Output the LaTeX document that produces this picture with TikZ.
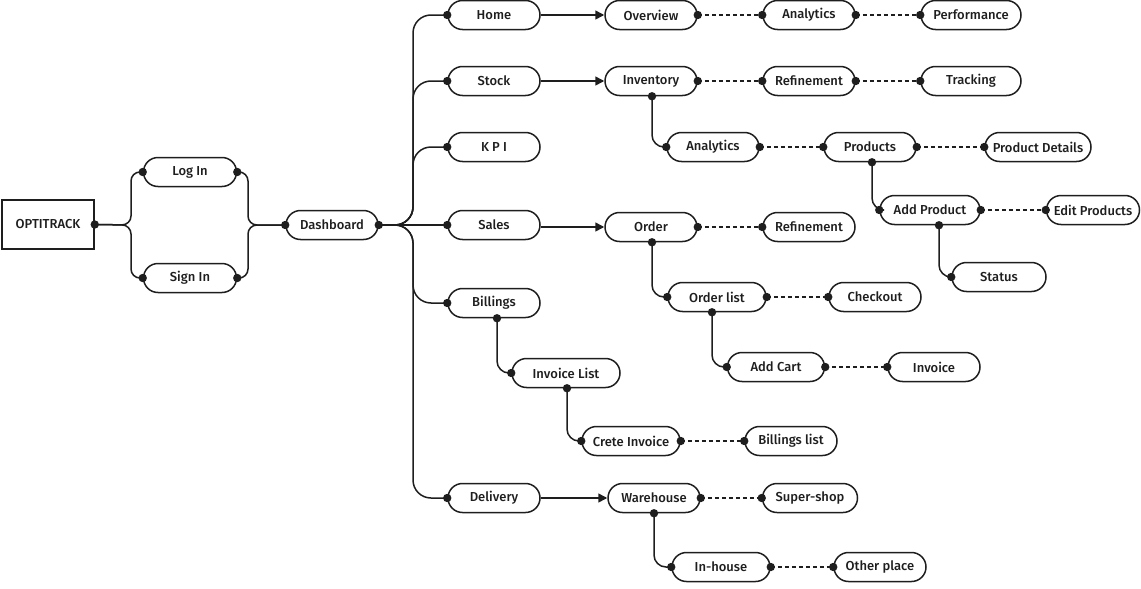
\documentclass[tikz,border=0pt]{standalone}
\usepackage{fontspec}
\setmainfont{Fira Sans Medium}
\usetikzlibrary{shapes.misc,arrows.meta,calc}
\definecolor{ink}{HTML}{1E1E1E}
\newcommand\pdot[1]{\fill[ink] (#1) circle (4.2pt);}
\begin{document}
\begin{tikzpicture}[x=1pt,y=-1pt,
  pill/.style={draw=ink, line width=1.5pt, rounded rectangle, minimum height=29pt,
     inner xsep=0pt, inner ysep=0pt, minimum width=92pt,
     font=\fontsize{13}{15}\selectfont, text=ink, fill=white},
  boxn/.style={draw=ink, line width=1.5pt, rectangle, minimum width=92pt, minimum height=49pt,
     font=\fontsize{13}{15}\selectfont, text=ink},
  conn/.style={draw=ink, line width=1.5pt},
  trunk/.style={conn, rounded corners=18pt},
  branch/.style={conn, rounded corners=12pt},
  dashc/.style={draw=ink, line width=1.5pt, dash pattern=on 4pt off 3pt},
  arr/.style={conn, -{Triangle[length=9pt,width=9pt]}}
]
\useasboundingbox (0,0) rectangle (1141,589);

% nodes
\node[boxn] (opt) at (48,224.5) {OPTITRACK};
\node[pill, minimum width=93pt] (login) at (190,172) {Log In};
\node[pill, minimum width=93pt] (signin) at (190,278) {Sign In};
\node[pill] (dash) at (332,225) {Dashboard};

\node[pill] (home) at (494,15) {Home};
\node[pill] (stock) at (494,81) {Stock};
\node[pill] (kpi) at (494,147) {K P I};
\node[pill] (sales) at (494,225) {Sales};
\node[pill] (bill) at (494,303) {Billings};
\node[pill] (deliv) at (494,498) {Delivery};

\node[pill] (overview) at (651,15) {Overview};
\node[pill] (anaA) at (809,15) {Analytics};
\node[pill, minimum width=100pt] (perf) at (971,15) {Performance};

\node[pill] (inv) at (651,81) {Inventory};
\node[pill] (refA) at (809,81) {Refinement};
\node[pill, minimum width=100pt] (track) at (971,81) {Tracking};

\node[pill] (anaB) at (713,147) {Analytics};
\node[pill] (prod) at (870,147) {Products};
\node[pill, minimum width=106pt] (pdet) at (1038,147) {Product Details};
\node[pill, minimum width=100pt] (addp) at (930,210) {Add Product};
\node[pill, minimum width=93pt] (editp) at (1093,210) {Edit Products};
\node[pill, minimum width=94pt] (status) at (999,277) {Status};

\node[pill] (order) at (651,227) {Order};
\node[pill] (refB) at (809,227) {Refinement};
\node[pill, minimum width=98pt] (olist) at (717,297) {Order list};
\node[pill] (checkout) at (875,297) {Checkout};
\node[pill, minimum width=97pt] (addcart) at (776,367) {Add Cart};
\node[pill] (invoice) at (934,367) {Invoice};

\node[pill, minimum width=108pt] (invlist) at (566,373) {Invoice List};
\node[pill, minimum width=98pt] (crete) at (631,441) {Crete Invoice};
\node[pill] (blist) at (791,441) {Billings list};

\node[pill] (wareh) at (654,498) {Warehouse};
\node[pill, minimum width=95pt] (super) at (810,498) {Super-shop};
\node[pill, minimum width=98pt] (inhouse) at (721,567) {In-house};
\node[pill] (other) at (880,567) {Other place};

% login / signin braces
\draw[conn, rounded corners=9pt] (opt.east) -- (131,225) -- (131,172) -- (login.west);
\draw[conn, rounded corners=9pt] (opt.east) -- (131,225) -- (131,278) -- (signin.west);
\draw[conn, rounded corners=9pt] (login.east) -- (248,172) -- (248,225) -- (dash.west);
\draw[conn, rounded corners=9pt] (signin.east) -- (248,278) -- (248,225) -- (dash.west);

% trunk
\foreach \n in {home,stock,kpi,bill,deliv}{
  \draw[trunk] (dash.east) -- (413,225) -- (413,0 |- \n.west) -- (\n.west);
}
\draw[conn] (dash.east) -- (sales.west);

% arrows
\draw[arr] (home.east) -- (overview.west);
\draw[arr] (stock.east) -- (inv.west);
\draw[arr] (sales.east |- order.west) -- (order.west);
\draw[arr] (deliv.east) -- (wareh.west);

% dashed
\draw[dashc] (overview.east) -- (anaA.west);
\draw[dashc] (anaA.east) -- (perf.west);
\draw[dashc] (inv.east) -- (refA.west);
\draw[dashc] (refA.east) -- (track.west);
\draw[dashc] (anaB.east) -- (prod.west);
\draw[dashc] (prod.east) -- (pdet.west);
\draw[dashc] (addp.east) -- (editp.west);
\draw[dashc] (order.east) -- (refB.west);
\draw[dashc] (olist.east) -- (checkout.west);
\draw[dashc] (addcart.east) -- (invoice.west);
\draw[dashc] (crete.east) -- (blist.west);
\draw[dashc] (wareh.east) -- (super.west);
\draw[dashc] (inhouse.east) -- (other.west);

% branch coordinates
\coordinate (invB) at ($(inv.south)+(1,0)$);
\coordinate (prodB) at ($(prod.south)+(2,0)$);
\coordinate (addpB) at ($(addp.south)+(9,0)$);
\coordinate (orderB) at ($(order.south)+(1,0)$);
\coordinate (olistB) at ($(olist.south)+(-5,0)$);
\coordinate (billB) at ($(bill.south)+(3,0)$);
\coordinate (invlistB) at ($(invlist.south)+(1,0)$);
\coordinate (warehB) at (wareh.south);

% branches
\draw[branch] (invB) -- (invB |- anaB.west) -- (anaB.west);
\draw[branch] (prodB) -- (prodB |- addp.west) -- (addp.west);
\draw[branch] (addpB) -- (addpB |- status.west) -- (status.west);
\draw[branch] (orderB) -- (orderB |- olist.west) -- (olist.west);
\draw[branch] (olistB) -- (olistB |- addcart.west) -- (addcart.west);
\draw[branch] (billB) -- (billB |- invlist.west) -- (invlist.west);
\draw[branch] (invlistB) -- (invlistB |- crete.west) -- (crete.west);
\draw[branch] (warehB) -- (warehB |- inhouse.west) -- (inhouse.west);

% dots
\pdot{opt.east}
\pdot{login.west}\pdot{login.east}\pdot{signin.west}\pdot{signin.east}
\pdot{dash.west}\pdot{dash.east}
\foreach \n in {home,stock,kpi,sales,bill,deliv}{\pdot{\n.west}}
\foreach \n in {overview,anaA,inv,refA,anaB,prod,addp,order,olist,addcart,crete,wareh,inhouse}{\pdot{\n.east}}
\foreach \n in {anaA,perf,refA,track,anaB,prod,pdet,addp,editp,status,refB,olist,checkout,addcart,invoice,invlist,crete,blist,super,inhouse,other}{\pdot{\n.west}}
\foreach \n in {invB,prodB,addpB,orderB,olistB,billB,invlistB,warehB}{\pdot{\n}}
\end{tikzpicture}
\end{document}
